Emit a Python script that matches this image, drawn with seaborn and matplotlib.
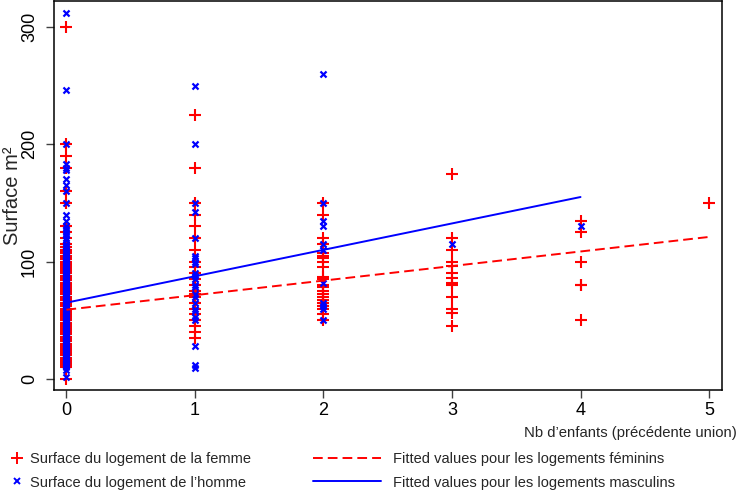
import seaborn as sns
import matplotlib.pyplot as plt
import pandas as pd
from matplotlib.lines import Line2D

# surfaces, one list per number of children
fem_0 = [0, 10, 12, 14, 15, 16, 18, 20, 22, 24, 25, 26, 28, 30, 32, 33, 35, 36, 38, 40,
         42, 43, 45, 47, 48, 50, 52, 54, 55, 56, 58, 60, 62, 63, 65, 67, 68, 70, 72, 74,
         75, 77, 78, 80, 82, 84, 85, 87, 88, 90, 92, 94, 95, 97, 98, 100, 102, 104, 105,
         107, 108, 110, 112, 115, 120, 125, 130, 150, 160, 180, 190, 200, 300]
fem_1 = [35, 40, 45, 50, 55, 60, 65, 70, 72, 75, 80, 85, 90, 95, 100, 110, 120, 130,
         140, 150, 180, 225]
fem_2 = [50, 55, 60, 62, 65, 67, 70, 72, 75, 78, 80, 85, 87, 95, 100, 103, 105, 107,
         115, 120, 140, 150]
fem_3 = [45, 56, 60, 70, 80, 82, 86, 90, 96, 100, 110, 120, 175]
fem_4 = [50, 80, 80, 100, 125, 135]
fem_5 = [150]

hom_0 = [2, 8, 10, 11, 12, 13, 14, 15, 16, 17, 18, 19, 20, 21, 22, 23, 24, 25, 26, 27,
         28, 29, 30, 31, 32, 33, 34, 35, 36, 37, 38, 39, 40, 41, 42, 43, 44, 45, 46, 47,
         48, 49, 50, 51, 52, 53, 54, 55, 56, 57, 58, 59, 60, 61, 62, 63, 64, 65, 66, 67,
         68, 69, 70, 71, 72, 73, 74, 75, 76, 77, 78, 79, 80, 81, 82, 83, 84, 85, 86, 87,
         88, 89, 90, 91, 92, 93, 94, 95, 96, 97, 98, 99, 100, 101, 102, 103, 104, 105,
         106, 107, 108, 110, 112, 113, 115, 118, 120, 123, 125, 128, 130, 135, 140, 150,
         160, 165, 170, 178, 180, 183, 200, 246, 312]
hom_1 = [9, 12, 28, 50, 53, 58, 60, 65, 70, 72, 78, 80, 85, 88, 90, 98, 100, 103, 105,
         120, 142, 150, 200, 250]
hom_2 = [50, 60, 62, 65, 82, 110, 115, 130, 135, 150, 260]
hom_3 = [115]
hom_4 = [130]

# fitted values (lfit) read at the line ends
fit_fem_x = [0, 5]
fit_fem_y = [59, 121]
fit_hom_x = [0, 4]
fit_hom_y = [65, 155]

ticks_x = [0, 1, 2, 3, 4, 5]
ticks_y = [0, 100, 200, 300]


def to_long(groups):
    rows = []
    for nb, vals in enumerate(groups):
        for v in vals:
            rows.append({'nb': nb, 'surface': v})
    return pd.DataFrame(rows)


femmes = to_long([fem_0, fem_1, fem_2, fem_3, fem_4, fem_5])
hommes = to_long([hom_0, hom_1, hom_2, hom_3, hom_4])

sns.set_style('ticks')
plt.rcParams['font.family'] = ['Liberation Sans', 'DejaVu Sans']

fig = plt.figure(figsize=(7.38, 4.95), dpi=100)
ax = fig.add_axes([54 / 738, 1 - 390 / 495, 668 / 738, 389 / 495])

sns.scatterplot(data=femmes, x='nb', y='surface', marker='+', color='red',
                s=72, linewidth=1.5, ax=ax, zorder=2)
sns.scatterplot(data=hommes, x='nb', y='surface', marker='x', color='blue',
                s=19, linewidth=1.6, ax=ax, zorder=3)
sns.lineplot(x=fit_fem_x, y=fit_fem_y, color='red', lw=1.4,
             linestyle=(0, (5.0, 2.6)), ax=ax, zorder=4)
sns.lineplot(x=fit_hom_x, y=fit_hom_y, color='blue', lw=1.4, ax=ax, zorder=5)

ax.set_xlim(-0.097, 5.101)
ax.set_ylim(-9.4, 322)
ax.set_xticks(ticks_x)
ax.set_yticks(ticks_y)
ax.tick_params(axis='both', direction='out', length=5.5, width=1.0, color='#404040',
               labelsize=13, labelcolor='black')
ax.tick_params(axis='y', pad=6, labelrotation=90)
ax.tick_params(axis='x', pad=3)
for lab in ax.get_yticklabels():
    lab.set_va('center')
for sp in ax.spines.values():
    sp.set_visible(True)
    sp.set_color('black')
    sp.set_linewidth(1.1)

ax.set_ylabel('Surface m²', fontsize=14.5)
ax.yaxis.set_label_coords(-0.048, 0.5)
ax.set_xlabel('Nb d’enfants (précédente union)', fontsize=10.7, loc='right')
ax.xaxis.set_label_coords(1.0225, -0.0925)

h_pts = [Line2D([], [], ls='none', marker='+', color='red', markersize=8, mew=1.4),
         Line2D([], [], ls='none', marker='x', color='blue', markersize=3.8, mew=1.4)]
fig.legend(h_pts, ['Surface du logement de la femme', 'Surface du logement de l’homme'],
           loc='center left', bbox_to_anchor=(11.5 / 738, 1 - 471 / 495),
           frameon=False, fontsize=10.5, handlelength=0.8, handletextpad=0.45,
           borderpad=0, borderaxespad=0, labelspacing=0.62)

h_lines = [Line2D([], [], color='red', lw=1.4, linestyle=(0, (5.0, 2.6))),
           Line2D([], [], color='blue', lw=1.4)]
fig.legend(h_lines, ['Fitted values pour les logements féminins',
                     'Fitted values pour les logements masculins'],
           loc='center left', bbox_to_anchor=(313 / 738, 1 - 471 / 495),
           frameon=False, fontsize=10.5, handlelength=4.66, handletextpad=0.82,
           borderpad=0, borderaxespad=0, labelspacing=0.62)

fig.savefig('out.png', dpi=100)
